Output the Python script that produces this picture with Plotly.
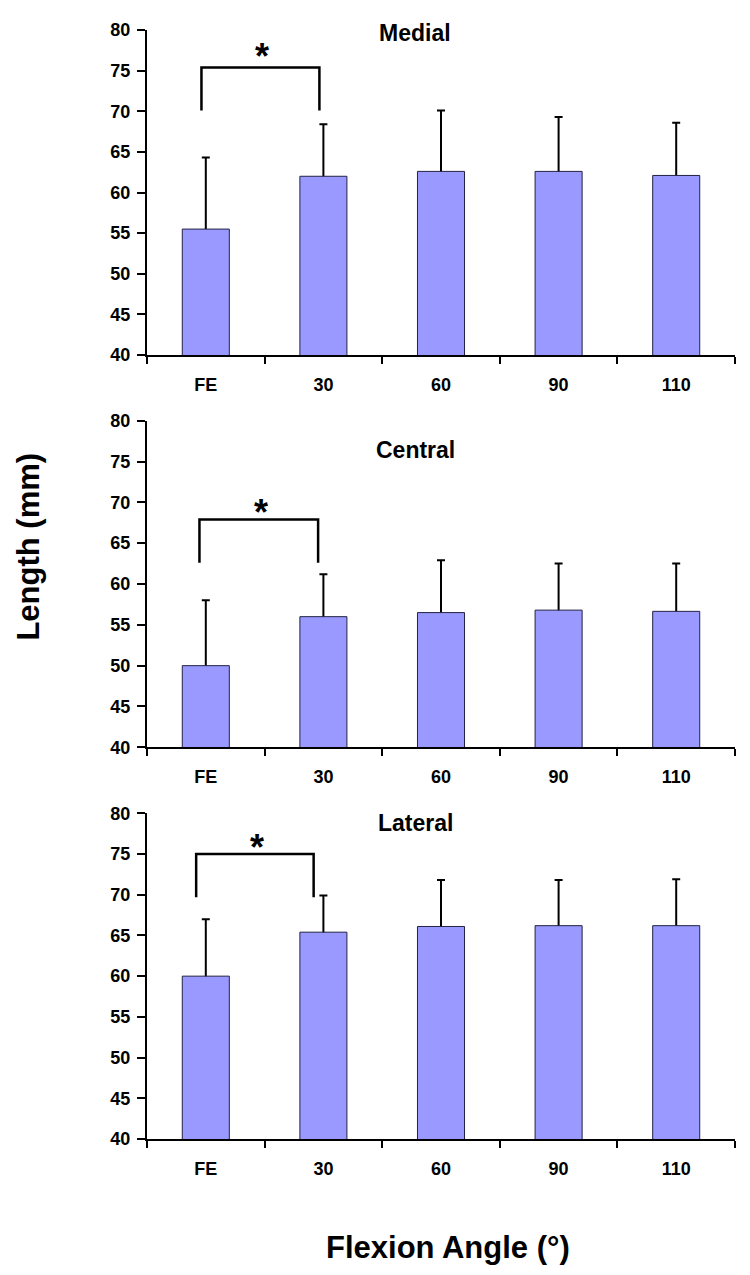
import plotly.graph_objects as go

categories = ["FE", "30", "60", "90", "110"]
panels = ["Medial", "Central", "Lateral"]
medial_mean = [55.5, 62.0, 62.6, 62.6, 62.1]
medial_sd = [8.8, 6.4, 7.5, 6.7, 6.5]
central_mean = [50.0, 56.0, 56.5, 56.8, 56.65]
central_sd = [8.0, 5.2, 6.4, 5.7, 5.85]
lateral_mean = [60.0, 65.4, 66.1, 66.2, 66.2]
lateral_sd = [7.0, 4.5, 5.7, 5.6, 5.7]
y_ticks = [40, 45, 50, 55, 60, 65, 70, 75, 80]

means = [medial_mean, central_mean, lateral_mean]
sds = [medial_sd, central_sd, lateral_sd]

FONT = "Arial, Liberation Sans, sans-serif"
BAR = "#9999FF"

# significance bracket geometry per panel: (x_left, x_right, y_top, y_leg)
brackets = [(-0.037, 0.966, 75.4, 70.1),
            (-0.054, 0.955, 67.9, 62.6),
            (-0.082, 0.917, 75.0, 69.7)]
stars = [(0.481, 77.85), (0.47, 69.9), (0.436, 76.9)]
titles_y = [79.6, 76.4, 78.8]

domains = [[0.7069, 1.0], [0.3532, 0.6477], [0.0, 0.2937]]

fig = go.Figure()
layout = dict(
    width=742, height=1267,
    margin=dict(l=138.5, r=15, t=22, b=136),
    paper_bgcolor="white", plot_bgcolor="white",
    showlegend=False, bargap=0.6, barmode="overlay",
    font=dict(family=FONT, color="black"),
)
annotations = []
shapes = []
for i in range(3):
    sfx = "" if i == 0 else str(i + 1)
    # error bars (drawn first, lower half hidden behind bars)
    fig.add_trace(go.Bar(
        x=categories, y=means[i],
        xaxis="x" + sfx, yaxis="y" + sfx,
        marker=dict(color="rgba(0,0,0,0)", line=dict(width=0)),
        error_y=dict(type="data", array=sds[i], color="black", thickness=2, width=4),
        hoverinfo="skip",
    ))
    fig.add_trace(go.Bar(
        x=categories, y=means[i],
        xaxis="x" + sfx, yaxis="y" + sfx,
        marker=dict(color=BAR, line=dict(color="#222244", width=1)),
    ))
    layout["xaxis" + sfx] = dict(
        domain=[0, 1], anchor="y" + sfx, type="category",
        categoryorder="array", categoryarray=categories,
        showline=True, linecolor="black", linewidth=2,
        ticks="outside", tickson="boundaries", ticklen=7, tickwidth=2, tickcolor="black",
        tickfont=dict(family=FONT, size=18, weight="bold"),
        showgrid=False, zeroline=False, range=[-0.5, 4.5],
        ticklabelstandoff=12,
    )
    layout["yaxis" + sfx] = dict(
        domain=domains[i], anchor="x" + sfx, range=[40, 80],
        tickvals=y_ticks,
        showline=True, linecolor="black", linewidth=2,
        ticks="outside", ticklen=8, tickwidth=2, tickcolor="black",
        tickfont=dict(family=FONT, size=18, weight="bold"),
        showgrid=False, zeroline=False, ticklabelstandoff=3,
    )
    xl, xr, yt, yl = brackets[i]
    shapes.append(dict(type="path", xref="x" + sfx, yref="y" + sfx,
                       path=f"M {xl},{yl} L {xl},{yt} L {xr},{yt} L {xr},{yl}",
                       line=dict(color="black", width=2.5)))
    sx, sy = stars[i]
    annotations.append(dict(x=sx, y=sy, xref="x" + sfx, yref="y" + sfx,
                            text="*", showarrow=False, yanchor="middle",
                            yshift=-9,
                            font=dict(family=FONT, size=36, weight="bold")))
    annotations.append(dict(x=1.78, y=titles_y[i], xref="x" + sfx, yref="y" + sfx,
                            text=panels[i], showarrow=False, yanchor="middle",
                            font=dict(family=FONT, size=23, weight="bold")))

annotations.append(dict(x=-0.201, y=0.534, xref="paper", yref="paper",
                        text="Length (mm)", textangle=-90, showarrow=False,
                        xanchor="center", yanchor="middle",
                        font=dict(family=FONT, size=31, weight="bold")))
annotations.append(dict(x=0.512, y=-0.0974, xref="paper", yref="paper",
                        text="Flexion Angle (°)", showarrow=False,
                        xanchor="center", yanchor="middle",
                        font=dict(family=FONT, size=31, weight="bold")))
layout["annotations"] = annotations
layout["shapes"] = shapes
fig.update_layout(**layout)
fig.write_html("out.html")
